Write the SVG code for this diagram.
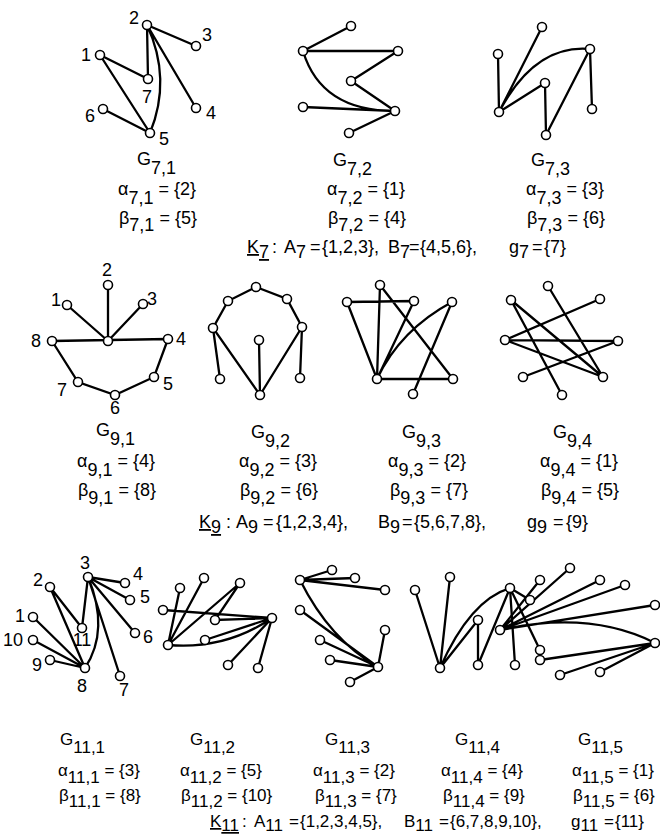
<svg xmlns="http://www.w3.org/2000/svg" width="660" height="835" viewBox="0 0 660 835">
<style>
.e{stroke:#000;stroke-width:2.3;fill:none;stroke-linecap:round}
.n{fill:#fff;stroke:#000;stroke-width:1.6}
text{font-family:'Liberation Sans','Arial',sans-serif;font-size:18px;fill:#000}
.l{text-anchor:middle}
.s{font-size:17px}
</style>
<rect width="660" height="835" fill="#fff"/>
<g id="connectors">
<g id="e71">
<path class="e" d="M147 25L196 46M147 25L148 79M147 25L196 108M100 55L148 79M100 55L150 133M103 109L150 133M147 25Q172 79 150 133"/>
</g>
<g id="e72">
<path class="e" d="M303 51L351 26M303 51L398 51M398 51L351 81M351 81L395 111M303 107L395 111M395 111L349 133M303 51Q321 111 395 111"/>
</g>
<g id="e73">
<path class="e" d="M499 112L542 27M499 112L498 54M499 112L545 83M545 83L546 135M546 135L590 49M590 49L592 109M499 112Q535 44 590 49"/>
</g>
<g id="e91">
<path class="e" d="M108 341L67 305M108 341L108 285M108 341L143 304M52 341L168 339M52 341L78 382L115 395L154 377L168 339"/>
</g>
<g id="e92">
<path class="e" d="M256 287L228 301L213 328L260 395L302 327L287 299L256 287M213 328L220 379M302 327L300 378M259 340L260 395"/>
</g>
<g id="e93">
<path class="e" d="M380 285L377 379M380 285L453 379M347 302L414 301M414 301L377 379M452 302L413 394M377 379L453 379M347 302L377 379M377 379Q400 330 452 302"/>
</g>
<g id="e94">
<path class="e" d="M600 299L505 340M505 340L618 341M505 340L603 377M523 377L618 341M562 395L511 300M511 300L603 377M548 286L603 377"/>
</g>
<g id="e111">
<path class="e" d="M88 577L125 583M88 577L130 600M88 577L135 633M88 577L120 676M88 577L82 628M85 668L50 587M85 668L33 617M85 668L33 640M85 668L50 660M50 587L82 628M88 577Q110 630 85 668"/>
</g>
<g id="e112">
<path class="e" d="M168 645L180 588M168 645L204 578M168 645L240 583M240 583L215 620L272 618M272 618L205 640M272 618L228 665M272 618L258 668M272 618L163 610M168 645Q225 650 272 618"/>
</g>
<g id="e113">
<path class="e" d="M300 580L332 570M300 580L355 578M300 580L385 590M300 580Q330 640 378 667M378 667L320 640M378 667L330 660M378 667L350 682M378 667L385 630M378 667L300 610"/>
</g>
<g id="e114">
<path class="e" d="M440 668L415 590M440 668L450 577M440 668L478 620L478 665L510 588M440 668Q470 600 510 588M510 588L530 600M510 588L540 650M510 588L515 665"/>
</g>
<g id="e115">
<path class="e" d="M500 630L540 580M500 630L570 568M500 630L600 580M500 630L625 585M500 630L655 605M500 630Q590 610 655 643M655 643L540 660M655 643L560 675M655 643L600 672"/>
</g>
</g>
<g id="nodes">
<g id="G71">
<circle class="n" cx="100" cy="55" r="4.5"/><circle class="n" cx="147" cy="25" r="4.5"/><circle class="n" cx="196" cy="46" r="4.5"/><circle class="n" cx="196" cy="108" r="4.5"/><circle class="n" cx="150" cy="133" r="4.5"/><circle class="n" cx="103" cy="109" r="4.5"/><circle class="n" cx="148" cy="79" r="4.5"/>
<text class="l" x="86" y="61">1</text><text class="l" x="134" y="24">2</text><text class="l" x="207" y="41">3</text><text class="l" x="211" y="119">4</text><text class="l" x="164" y="145">5</text><text class="l" x="90" y="122">6</text><text class="l" x="147" y="103">7</text>
<text x="137" y="165">G<tspan dy="9">7,1</tspan></text>
<text x="118" y="195">α<tspan dy="9">7,1</tspan><tspan dy="-9"> = {2}</tspan></text>
<text x="119" y="224">β<tspan dy="7">7,1</tspan><tspan dy="-7"> = {5}</tspan></text>
</g>
<g id="G72">
<circle class="n" cx="351" cy="26" r="4.5"/><circle class="n" cx="303" cy="51" r="4.5"/><circle class="n" cx="398" cy="51" r="4.5"/><circle class="n" cx="351" cy="81" r="4.5"/><circle class="n" cx="303" cy="107" r="4.5"/><circle class="n" cx="395" cy="111" r="4.5"/><circle class="n" cx="349" cy="133" r="4.5"/>
<text x="333" y="166">G<tspan dy="9">7,2</tspan></text>
<text x="327" y="195">α<tspan dy="9">7,2</tspan><tspan dy="-9"> = {1}</tspan></text>
<text x="328" y="224">β<tspan dy="7">7,2</tspan><tspan dy="-7"> = {4}</tspan></text>
</g>
<g id="G73">
<circle class="n" cx="542" cy="27" r="4.5"/><circle class="n" cx="498" cy="54" r="4.5"/><circle class="n" cx="590" cy="49" r="4.5"/><circle class="n" cx="545" cy="83" r="4.5"/><circle class="n" cx="499" cy="112" r="4.5"/><circle class="n" cx="592" cy="109" r="4.5"/><circle class="n" cx="546" cy="135" r="4.5"/>
<text x="531" y="166">G<tspan dy="9">7,3</tspan></text>
<text x="526" y="195">α<tspan dy="9">7,3</tspan><tspan dy="-9"> = {3}</tspan></text>
<text x="527" y="224">β<tspan dy="7">7,3</tspan><tspan dy="-7"> = {6}</tspan></text>
</g>
<g id="K7">
<text y="253"><tspan x="247" text-decoration="underline">K<tspan dy="5">7</tspan></tspan><tspan x="272" dy="-5">:</tspan><tspan x="284">A</tspan><tspan dy="5">7</tspan><tspan x="310" dy="-5">=</tspan><tspan x="322">{1,2,3},</tspan><tspan x="388">B</tspan><tspan dy="5">7</tspan><tspan x="409" dy="-5">=</tspan><tspan x="420">{4,5,6},</tspan><tspan x="509">g</tspan><tspan dy="5">7</tspan><tspan x="532" dy="-5">=</tspan><tspan x="544">{7}</tspan></text>
</g>
<g id="G91">
<circle class="n" cx="108" cy="285" r="4.5"/><circle class="n" cx="67" cy="305" r="4.5"/><circle class="n" cx="143" cy="304" r="4.5"/><circle class="n" cx="108" cy="341" r="4.5"/><circle class="n" cx="52" cy="341" r="4.5"/><circle class="n" cx="168" cy="339" r="4.5"/><circle class="n" cx="78" cy="382" r="4.5"/><circle class="n" cx="115" cy="395" r="4.5"/><circle class="n" cx="154" cy="377" r="4.5"/>
<text class="l" x="107" y="276">2</text><text class="l" x="56" y="306">1</text><text class="l" x="152" y="305">3</text><text class="l" x="36" y="347">8</text><text class="l" x="181" y="345">4</text><text class="l" x="62" y="396">7</text><text class="l" x="115" y="414">6</text><text class="l" x="168" y="390">5</text>
<text x="96" y="436">G<tspan dy="9">9,1</tspan></text>
<text x="77" y="467">α<tspan dy="9">9,1</tspan><tspan dy="-9"> = {4}</tspan></text>
<text x="78" y="496">β<tspan dy="8">9,1</tspan><tspan dy="-8"> = {8}</tspan></text>
</g>
<g id="G92">
<circle class="n" cx="256" cy="287" r="4.5"/><circle class="n" cx="228" cy="301" r="4.5"/><circle class="n" cx="287" cy="299" r="4.5"/><circle class="n" cx="213" cy="328" r="4.5"/><circle class="n" cx="302" cy="327" r="4.5"/><circle class="n" cx="260" cy="395" r="4.5"/><circle class="n" cx="259" cy="340" r="4.5"/><circle class="n" cx="220" cy="379" r="4.5"/><circle class="n" cx="300" cy="378" r="4.5"/>
<text x="251" y="438">G<tspan dy="9">9,2</tspan></text>
<text x="239" y="467">α<tspan dy="9">9,2</tspan><tspan dy="-9"> = {3}</tspan></text>
<text x="240" y="496">β<tspan dy="8">9,2</tspan><tspan dy="-8"> = {6}</tspan></text>
</g>
<g id="G93">
<circle class="n" cx="380" cy="285" r="4.5"/><circle class="n" cx="347" cy="302" r="4.5"/><circle class="n" cx="414" cy="301" r="4.5"/><circle class="n" cx="452" cy="302" r="4.5"/><circle class="n" cx="377" cy="379" r="4.5"/><circle class="n" cx="453" cy="379" r="4.5"/><circle class="n" cx="413" cy="394" r="4.5"/>
<text x="402" y="438">G<tspan dy="9">9,3</tspan></text>
<text x="388" y="467">α<tspan dy="9">9,3</tspan><tspan dy="-9"> = {2}</tspan></text>
<text x="390" y="496">β<tspan dy="8">9,3</tspan><tspan dy="-8"> = {7}</tspan></text>
</g>
<g id="G94">
<circle class="n" cx="511" cy="300" r="4.5"/><circle class="n" cx="548" cy="286" r="4.5"/><circle class="n" cx="600" cy="299" r="4.5"/><circle class="n" cx="505" cy="340" r="4.5"/><circle class="n" cx="618" cy="341" r="4.5"/><circle class="n" cx="523" cy="377" r="4.5"/><circle class="n" cx="562" cy="395" r="4.5"/><circle class="n" cx="603" cy="377" r="4.5"/>
<text x="553" y="438">G<tspan dy="9">9,4</tspan></text>
<text x="540" y="467">α<tspan dy="9">9,4</tspan><tspan dy="-9"> = {1}</tspan></text>
<text x="541" y="496">β<tspan dy="8">9,4</tspan><tspan dy="-8"> = {5}</tspan></text>
</g>
<g id="K9">
<text y="528"><tspan x="199" text-decoration="underline">K<tspan dy="5">9</tspan></tspan><tspan x="226" dy="-5">:</tspan><tspan x="236">A</tspan><tspan dy="5">9</tspan><tspan x="263" dy="-5">=</tspan><tspan x="276">{1,2,3,4},</tspan><tspan x="378">B</tspan><tspan dy="5">9</tspan><tspan x="402" dy="-5">=</tspan><tspan x="414">{5,6,7,8},</tspan><tspan x="527">g</tspan><tspan dy="5">9</tspan><tspan x="553" dy="-5">=</tspan><tspan x="566">{9}</tspan></text>
</g>
<g id="G111">
<circle class="n" cx="88" cy="577" r="4.5"/><circle class="n" cx="50" cy="587" r="4.5"/><circle class="n" cx="125" cy="583" r="4.5"/><circle class="n" cx="130" cy="600" r="4.5"/><circle class="n" cx="33" cy="617" r="4.5"/><circle class="n" cx="135" cy="633" r="4.5"/><circle class="n" cx="82" cy="628" r="4.5"/><circle class="n" cx="33" cy="640" r="4.5"/><circle class="n" cx="50" cy="660" r="4.5"/><circle class="n" cx="85" cy="668" r="4.5"/><circle class="n" cx="120" cy="676" r="4.5"/>
<text class="l" x="85" y="569">3</text><text class="l" x="38" y="586">2</text><text class="l" x="138" y="580">4</text><text class="l" x="145" y="603">5</text><text class="l" x="20" y="622">1</text><text class="l" x="148" y="643">6</text><text class="l" x="82" y="646">11</text><text class="l" x="13" y="646">10</text><text class="l" x="37" y="671">9</text><text class="l" x="82" y="692">8</text><text class="l" x="124" y="696">7</text>
<text class="s" x="60" y="745">G<tspan dy="8">11,1</tspan></text>
<text class="s" x="58" y="776">α<tspan dy="7">11,1</tspan><tspan dy="-7"> = {3}</tspan></text>
<text class="s" x="59" y="801">β<tspan dy="6">11,1</tspan><tspan dy="-6"> = {8}</tspan></text>
</g>
<g id="G112">
<circle class="n" cx="168" cy="645" r="4.5"/><circle class="n" cx="272" cy="618" r="4.5"/><circle class="n" cx="180" cy="588" r="4.5"/><circle class="n" cx="204" cy="578" r="4.5"/><circle class="n" cx="240" cy="583" r="4.5"/><circle class="n" cx="215" cy="620" r="4.5"/><circle class="n" cx="205" cy="640" r="4.5"/><circle class="n" cx="228" cy="665" r="4.5"/><circle class="n" cx="258" cy="668" r="4.5"/><circle class="n" cx="163" cy="610" r="4.5"/>
<text class="s" x="190" y="745">G<tspan dy="8">11,2</tspan></text>
<text class="s" x="180" y="776">α<tspan dy="7">11,2</tspan><tspan dy="-7"> = {5}</tspan></text>
<text class="s" x="181" y="801">β<tspan dy="6">11,2</tspan><tspan dy="-6"> = {10}</tspan></text>
</g>
<g id="G113">
<circle class="n" cx="300" cy="580" r="4.5"/><circle class="n" cx="378" cy="667" r="4.5"/><circle class="n" cx="332" cy="570" r="4.5"/><circle class="n" cx="355" cy="578" r="4.5"/><circle class="n" cx="385" cy="590" r="4.5"/><circle class="n" cx="320" cy="640" r="4.5"/><circle class="n" cx="330" cy="660" r="4.5"/><circle class="n" cx="350" cy="682" r="4.5"/><circle class="n" cx="385" cy="630" r="4.5"/><circle class="n" cx="300" cy="610" r="4.5"/>
<text class="s" x="325" y="745">G<tspan dy="8">11,3</tspan></text>
<text class="s" x="313" y="776">α<tspan dy="7">11,3</tspan><tspan dy="-7"> = {2}</tspan></text>
<text class="s" x="315" y="801">β<tspan dy="6">11,3</tspan><tspan dy="-6"> = {7}</tspan></text>
</g>
<g id="G114">
<circle class="n" cx="440" cy="668" r="4.5"/><circle class="n" cx="510" cy="588" r="4.5"/><circle class="n" cx="415" cy="590" r="4.5"/><circle class="n" cx="450" cy="577" r="4.5"/><circle class="n" cx="478" cy="620" r="4.5"/><circle class="n" cx="478" cy="665" r="4.5"/><circle class="n" cx="530" cy="600" r="4.5"/><circle class="n" cx="540" cy="650" r="4.5"/><circle class="n" cx="515" cy="665" r="4.5"/>
<text class="s" x="455" y="745">G<tspan dy="8">11,4</tspan></text>
<text class="s" x="441" y="776">α<tspan dy="7">11,4</tspan><tspan dy="-7"> = {4}</tspan></text>
<text class="s" x="443" y="801">β<tspan dy="6">11,4</tspan><tspan dy="-6"> = {9}</tspan></text>
</g>
<g id="G115">
<circle class="n" cx="500" cy="630" r="4.5"/><circle class="n" cx="655" cy="643" r="4.5"/><circle class="n" cx="540" cy="580" r="4.5"/><circle class="n" cx="570" cy="568" r="4.5"/><circle class="n" cx="600" cy="580" r="4.5"/><circle class="n" cx="625" cy="585" r="4.5"/><circle class="n" cx="655" cy="605" r="4.5"/><circle class="n" cx="540" cy="660" r="4.5"/><circle class="n" cx="560" cy="675" r="4.5"/><circle class="n" cx="600" cy="672" r="4.5"/>
<text class="s" x="578" y="745">G<tspan dy="8">11,5</tspan></text>
<text class="s" x="572" y="776">α<tspan dy="7">11,5</tspan><tspan dy="-7"> = {1}</tspan></text>
<text class="s" x="573" y="801">β<tspan dy="6">11,5</tspan><tspan dy="-6"> = {6}</tspan></text>
</g>
<g id="K11">
<text class="s" y="827"><tspan x="210" text-decoration="underline">K<tspan dy="4">11</tspan></tspan><tspan x="242" dy="-4">:</tspan><tspan x="254">A</tspan><tspan dy="4">11</tspan><tspan x="289" dy="-4">=</tspan><tspan x="300">{1,2,3,4,5},</tspan><tspan x="404">B</tspan><tspan dy="4">11</tspan><tspan x="439" dy="-4">=</tspan><tspan x="450">{6,7,8,9,10},</tspan><tspan x="571">g</tspan><tspan dy="4">11</tspan><tspan x="604" dy="-4">=</tspan><tspan x="615">{11}</tspan></text>
</g>
</g>
</svg>
